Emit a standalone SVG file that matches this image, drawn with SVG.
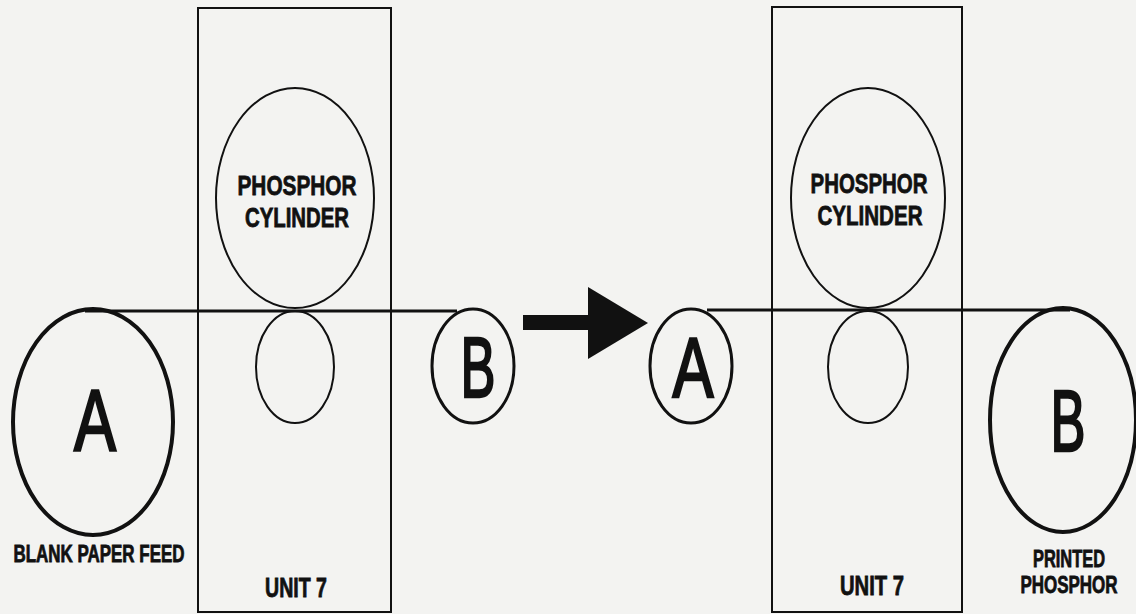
<svg xmlns="http://www.w3.org/2000/svg" width="1136" height="614" viewBox="0 0 1136 614">
<style>
.bg{fill:#f3f3f1}
.box{fill:none;stroke:#111;stroke-width:2}
.thin{fill:none;stroke:#111;stroke-width:2}
.thick{fill:none;stroke:#111;stroke-width:4}
.mid{fill:none;stroke:#111;stroke-width:3}
.paper{fill:none;stroke:#111;stroke-width:3}
.lbl{font-family:"Liberation Sans",Arial,sans-serif;font-weight:bold;fill:#111;stroke:#111;stroke-width:0.8;text-anchor:middle}
.big{font-family:"Liberation Sans",Arial,sans-serif;fill:#111;stroke:#111;stroke-width:2.5;text-anchor:middle}
</style>
<rect class="bg" x="0" y="0" width="1136" height="614"/>
<g id="unit-left">
<rect class="box" x="198" y="8" width="193" height="604"/>
<text class="lbl" x="296" y="597" font-size="27" textLength="62" lengthAdjust="spacingAndGlyphs">UNIT 7</text>
</g>
<g id="cylinder-left">
<ellipse class="thin" cx="295" cy="198" rx="79" ry="110"/>
<text class="lbl" x="297" y="195" font-size="28" textLength="119" lengthAdjust="spacingAndGlyphs">PHOSPHOR</text>
<text class="lbl" x="297" y="227" font-size="27" textLength="104" lengthAdjust="spacingAndGlyphs">CYLINDER</text>
</g>
<g id="roller-left">
<ellipse class="thin" cx="295" cy="367" rx="39" ry="56"/>
</g>
<g id="unit-right">
<rect class="box" x="772" y="7" width="190" height="605"/>
<text class="lbl" x="872" y="595" font-size="27" textLength="64" lengthAdjust="spacingAndGlyphs">UNIT 7</text>
</g>
<g id="cylinder-right">
<ellipse class="thin" cx="868" cy="198" rx="77" ry="110"/>
<text class="lbl" x="869" y="193" font-size="28" textLength="117" lengthAdjust="spacingAndGlyphs">PHOSPHOR</text>
<text class="lbl" x="870" y="225" font-size="27" textLength="105" lengthAdjust="spacingAndGlyphs">CYLINDER</text>
</g>
<g id="roller-right">
<ellipse class="thin" cx="868" cy="367" rx="40" ry="56"/>
</g>
<g id="reel-a-feed">
<ellipse class="thick" cx="93" cy="422" rx="80" ry="113"/>
<text class="big" x="95" y="451" font-size="88" textLength="42" lengthAdjust="spacingAndGlyphs">A</text>
<text class="lbl" x="99" y="562" font-size="23" textLength="171" lengthAdjust="spacingAndGlyphs">BLANK PAPER FEED</text>
</g>
<g id="reel-b-small">
<ellipse class="mid" cx="473" cy="366" rx="41" ry="57"/>
<text class="big" x="478" y="397" font-size="86" textLength="35" lengthAdjust="spacingAndGlyphs">B</text>
</g>
<g id="reel-a-small">
<ellipse class="mid" cx="691" cy="366" rx="41" ry="57"/>
<text class="big" x="693" y="397" font-size="86" textLength="41" lengthAdjust="spacingAndGlyphs">A</text>
</g>
<g id="reel-b-printed">
<ellipse class="thick" cx="1063" cy="420" rx="73" ry="112"/>
<text class="big" x="1068" y="451" font-size="88" textLength="35" lengthAdjust="spacingAndGlyphs">B</text>
<text class="lbl" x="1069" y="567" font-size="23" textLength="72" lengthAdjust="spacingAndGlyphs">PRINTED</text>
<text class="lbl" x="1069" y="593" font-size="23" textLength="97" lengthAdjust="spacingAndGlyphs">PHOSPHOR</text>
</g>
<g id="connectors">
<line class="paper" x1="85" y1="311" x2="457" y2="311"/>
<line class="paper" x1="707" y1="310" x2="1070" y2="310"/>
<rect x="523" y="315" width="67" height="15" fill="#111"/>
<polygon points="588,287 648,323 588,359" fill="#111"/>
</g>
</svg>
